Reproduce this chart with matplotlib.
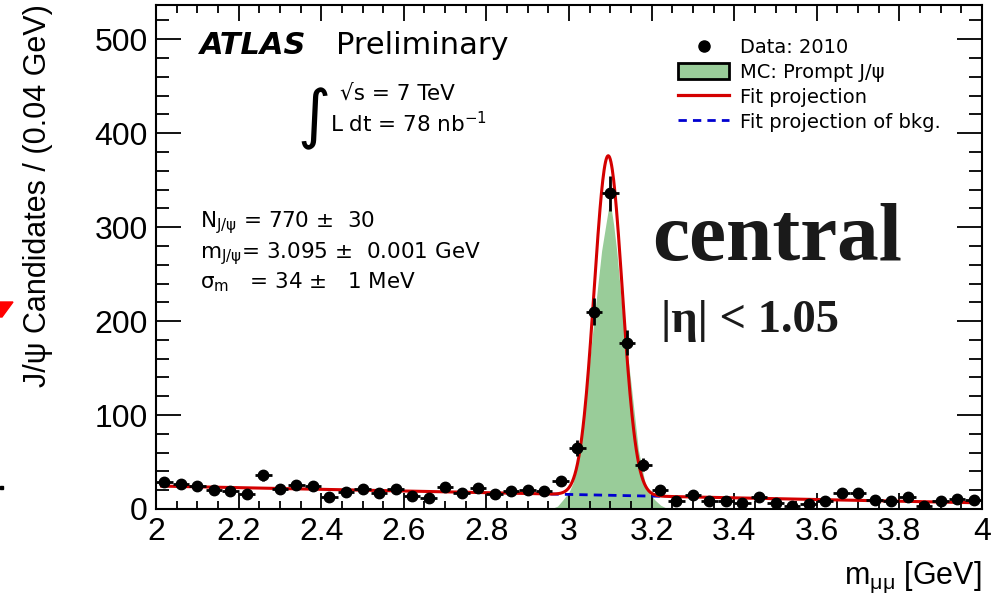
import numpy as np
import matplotlib
matplotlib.use("Agg")
import matplotlib.pyplot as plt
from matplotlib.lines import Line2D
from matplotlib.patches import Patch, Polygon
from matplotlib.ticker import MultipleLocator, FormatStrFormatter

# ---------------- data ----------------
bin_centers = [2.02, 2.06, 2.10, 2.14, 2.18, 2.22, 2.26, 2.30, 2.34, 2.38,
               2.42, 2.46, 2.50, 2.54, 2.58, 2.62, 2.66, 2.70, 2.74, 2.78,
               2.82, 2.86, 2.90, 2.94, 2.98, 3.02, 3.06, 3.10, 3.14, 3.18,
               3.22, 3.26, 3.30, 3.34, 3.38, 3.42, 3.46, 3.50, 3.54, 3.58,
               3.62, 3.66, 3.70, 3.74, 3.78, 3.82, 3.86, 3.90, 3.94, 3.98]
counts = [29, 27, 25, 20, 19, 16, 36, 21, 26, 24,
          13, 18, 21, 17, 21, 14, 12, 23, 17, 22,
          16, 19, 20, 19, 30, 65, 210, 336, 177, 47,
          20, 8, 15, 8, 9, 6, 13, 6, 3, 5,
          9, 17, 17, 10, 8, 13, 3, 8, 11, 10]
bin_half_width = 0.02

# MC prompt J/psi shape
mc_mass = [2.955, 2.972, 2.985, 3.000, 3.010, 3.027, 3.044, 3.063, 3.079, 3.090,
           3.099, 3.108, 3.1155, 3.129, 3.150, 3.168, 3.184, 3.196, 3.208, 3.222, 3.240]
mc_vals = [0, 3, 9.6, 18, 28, 63, 134, 211, 275, 305,
           329, 303, 275, 211, 134, 63, 28, 16, 9.6, 4, 0]

fit_n_jpsi = 770.0
fit_mass = 3.095
fit_sigma = 0.034
bin_width = 0.04
bkg_at_2 = 24.5
bkg_at_4 = 6.5
bkg_window = (2.955, 3.235)

x_ticks = [2, 2.2, 2.4, 2.6, 2.8, 3, 3.2, 3.4, 3.6, 3.8, 4]
y_ticks = [0, 100, 200, 300, 400, 500]

# ---------------- style ----------------
plt.rcParams['font.family'] = ['Liberation Sans', 'DejaVu Sans']
plt.rcParams['mathtext.fontset'] = 'custom'
plt.rcParams['mathtext.rm'] = 'DejaVu Sans'
plt.rcParams['mathtext.it'] = 'DejaVu Sans:italic'
plt.rcParams['mathtext.bf'] = 'DejaVu Sans:bold'

RED = '#d40000'
BLUE = '#0000d0'
GREEN = '#99cc99'
WIDE = ['DejaVu Sans']

W, H = 1001, 598
fig = plt.figure(figsize=(W / 100, H / 100), dpi=100)
ax = fig.add_axes([156 / W, 1 - 509 / H, 826 / W, 504.5 / H])


def fx(px):
    return px / W


def fy(py):
    return 1 - py / H


def bkg(x):
    return bkg_at_2 + (bkg_at_4 - bkg_at_2) * (np.asarray(x) - 2.0) / 2.0


def total(x):
    x = np.asarray(x)
    amp = fit_n_jpsi * bin_width / (fit_sigma * np.sqrt(2 * np.pi))
    return bkg(x) + amp * np.exp(-0.5 * ((x - fit_mass) / fit_sigma) ** 2)


# MC
ax.fill_between(mc_mass, 0, mc_vals, color=GREEN, lw=0, zorder=1)
# Background projection
xb = np.linspace(bkg_window[0], bkg_window[1], 50)
ax.plot(xb, bkg(xb), color=BLUE, lw=2.0, ls=(0, (3, 2.2)), zorder=2)
# Fit projection
xf = np.linspace(2.01, 3.99, 1200)
ax.plot(xf, total(xf), color=RED, lw=2.2, zorder=3, solid_capstyle='butt')
# Data
cnt = np.asarray(counts, dtype=float)
ax.errorbar(bin_centers, cnt, yerr=np.sqrt(cnt), xerr=bin_half_width, fmt='o',
            color='black', ms=7.5, elinewidth=2.0, capsize=0, zorder=5)

ax.set_xlim(2, 4)
ax.set_ylim(0, 537)
ax.set_xticks(x_ticks)
ax.set_yticks(y_ticks)
ax.xaxis.set_major_formatter(FormatStrFormatter('%g'))
ax.xaxis.set_minor_locator(MultipleLocator(0.05))
ax.yaxis.set_minor_locator(MultipleLocator(20))
ax.tick_params(which='both', direction='in', top=True, right=True, width=1.3,
               labelsize=23, colors='black')
ax.tick_params(axis='y', which='major', length=18, pad=6)
ax.tick_params(axis='y', which='minor', length=9.5)
ax.tick_params(axis='x', which='major', length=11.5, pad=6)
ax.tick_params(axis='x', which='minor', length=6)
for s in ax.spines.values():
    s.set_linewidth(1.5)

ax.set_ylabel('J/ψ Candidates / (0.04 GeV)', fontsize=22, loc='top')
ax.yaxis.set_label_coords((53 - 156) / 826, 1.0)
ax.set_xlabel(r'm$_{\mathregular{μμ}}$ [GeV]', fontsize=22, loc='right')
ax.xaxis.set_label_coords(1.0, (509 - 560) / 504.5)

# Legend
handles = [
    Line2D([], [], marker='o', ls='none', color='black', ms=8),
    Patch(facecolor=GREEN, edgecolor='black', linewidth=2),
    Line2D([], [], color=RED, lw=2.3),
    Line2D([], [], color=BLUE, lw=2.0, ls=(0, (3, 2.2))),
]
labels = ['Data: 2010', 'MC: Prompt J/ψ', 'Fit projection', 'Fit projection of bkg.']
ax.legend(handles, labels, loc='upper left',
          bbox_to_anchor=((678 - 156) / 826, (509 - 38) / 504.5),
          frameon=False, prop={'family': WIDE, 'size': 14},
          handlelength=2.63, handleheight=0.93,
          handletextpad=0.55, labelspacing=0.3, borderpad=0, borderaxespad=0)

# Text annotations
fig.text(fx(200), fy(54), 'ATLAS', fontsize=22, weight='bold', style='italic', family=WIDE)
fig.text(fx(336), fy(54), 'Preliminary', fontsize=22, family=WIDE)
fig.text(fx(297), fy(136), '∫', fontsize=46, family=WIDE)
fig.text(fx(340), fy(100), '√s = 7 TeV', fontsize=15.5, family=WIDE)
fig.text(fx(330), fy(132), r'L dt = 78 nb$^{\mathregular{-1}}$', fontsize=15.5, family=WIDE)
fig.text(fx(200), fy(227), r'N$_{\mathregular{J/ψ}}$ = 770 ±  30', fontsize=15.5, family=WIDE)
fig.text(fx(200), fy(258), r'm$_{\mathregular{J/ψ}}$= 3.095 ±  0.001 GeV', fontsize=15.5, family=WIDE)
fig.text(fx(200), fy(288), r'σ$_{\mathregular{m}}$   = 34 ±   1 MeV', fontsize=15.5, family=WIDE)

fig.text(fx(652), fy(260), 'central', fontsize=60, weight='bold',
         family='Liberation Serif', color='#1a1a1a')
fig.text(fx(661), fy(332), '|η| < 1.05', fontsize=33.5, weight='bold',
         family='Liberation Serif', color='#1a1a1a')

# cropped fragments at the left edge of the original slide
fig.patches.append(Polygon([[fx(0), fy(302)], [fx(13), fy(302)], [fx(2), fy(317)], [fx(0), fy(317)]],
                           closed=True, transform=fig.transFigure, color='red'))
fig.patches.append(Polygon([[fx(0), fy(486)], [fx(2.5), fy(486)], [fx(2.5), fy(489)], [fx(0), fy(489)]],
                           closed=True, transform=fig.transFigure, color='black'))

fig.savefig('out.png', dpi=100)
